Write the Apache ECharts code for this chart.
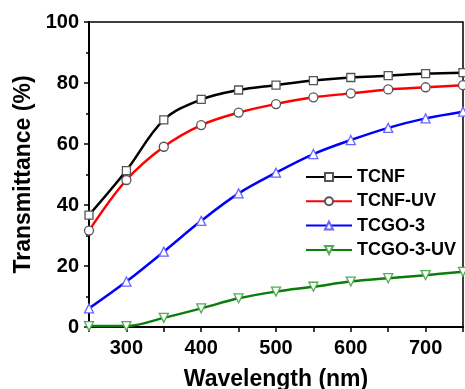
<!DOCTYPE html>
<html><head><meta charset="utf-8">
<script src="https://cdn.jsdelivr.net/npm/echarts@6/dist/echarts.min.js"></script>
<style>html,body{margin:0;padding:0;background:#fff}#c{width:465px;height:389px}</style>
</head><body><div id="c"></div>
<script>
const wavelengths = [250, 300, 350, 400, 450, 500, 550, 600, 650, 700, 750];
const tcnf     = [36.7, 51.3, 67.9, 74.6, 77.7, 79.3, 80.8, 81.8, 82.4, 83.1, 83.4];
const tcnfUV   = [31.6, 48.2, 59.1, 66.2, 70.3, 73.1, 75.3, 76.6, 77.9, 78.6, 79.3];
const tcgo3    = [6.1, 14.9, 24.7, 34.8, 43.8, 50.6, 56.7, 61.3, 65.3, 68.4, 70.6];
const tcgo3UV  = [0.3, 0.3, 3.0, 6.1, 9.4, 11.6, 13.2, 14.9, 16.0, 17.0, 18.1];
const xTickLabels = [300, 400, 500, 600, 700];
const yTickLabels = [0, 20, 40, 60, 80, 100];

const pairs = arr => wavelengths.map((w, i) => [w, arr[i]]);
const FONT = 'Liberation Sans, Arial, sans-serif';

function mkSeries(name, data, color, symbol, borderColor, rotate) {
  return {
    name, type: 'line', data: pairs(data), smooth: 0.35,
    symbol, symbolSize: symbol === 'rect' ? 8 : 9, symbolRotate: rotate || 0,
    showAllSymbol: true,
    lineStyle: { color, width: 2.5 },
    itemStyle: { color: '#fff', borderColor, borderWidth: 1.3 },
    emphasis: { disabled: true }, z: 3
  };
}

const chart = echarts.init(document.getElementById('c'), null, { renderer: 'canvas' });
chart.setOption({
  animation: false,
  backgroundColor: '#fff',
  grid: { left: 89, top: 22, right: 2, bottom: 62, containLabel: false, outerBoundsMode: 'none',
          show: true, borderColor: '#000', borderWidth: 1.5, backgroundColor: 'transparent' },
  legend: {
    orient: 'vertical', left: 300, top: 163,
    itemWidth: 46, itemHeight: 10, itemGap: 6.3,
    textStyle: { fontFamily: FONT, fontWeight: 'bold', fontSize: 18, color: '#000', lineHeight: 18 },
    data: ['TCNF', 'TCNF-UV', 'TCGO-3', 'TCGO-3-UV']
  },
  xAxis: {
    type: 'value', min: 250, max: 750, interval: 50,
    name: 'Wavelength (nm)', nameLocation: 'middle', nameGap: 41,
    nameTextStyle: { fontFamily: FONT, fontWeight: 'bold', fontSize: 23, color: '#000' },
    axisLine: { lineStyle: { color: '#000', width: 2 } },
    axisTick: { show: true, length: 5, lineStyle: { color: '#000', width: 1.5 } },
    axisLabel: {
      fontFamily: FONT, fontWeight: 'bold', fontSize: 20, color: '#000', margin: 11,
      showMinLabel: true, showMaxLabel: true,
      formatter: v => xTickLabels.includes(v) ? String(v) : ''
    },
    splitLine: { show: false }
  },
  yAxis: {
    type: 'value', min: 0, max: 100, interval: 20,
    name: 'Transmittance (%)', nameLocation: 'middle', nameGap: 52,
    nameTextStyle: { fontFamily: FONT, fontWeight: 'bold', fontSize: 23, color: '#000' },
    axisLine: { show: true, lineStyle: { color: '#000', width: 2 } },
    axisTick: { show: true, length: 5, lineStyle: { color: '#000', width: 1.5 } },
    minorTick: { show: true, splitNumber: 2, length: 3, lineStyle: { color: '#000', width: 1.5 } },
    axisLabel: {
      fontFamily: FONT, fontWeight: 'bold', fontSize: 20, color: '#000', margin: 10,
      formatter: v => yTickLabels.includes(v) ? String(v) : ''
    },
    splitLine: { show: false }
  },
  series: [
    mkSeries('TCNF', tcnf, '#000000', 'rect', '#555555'),
    mkSeries('TCNF-UV', tcnfUV, '#ff0000', 'circle', '#555555'),
    mkSeries('TCGO-3', tcgo3, '#0000ff', 'triangle', '#6666ff'),
    mkSeries('TCGO-3-UV', tcgo3UV, '#0a7d0a', 'triangle', '#55aa55', 180)
  ]
});
</script></body></html>
